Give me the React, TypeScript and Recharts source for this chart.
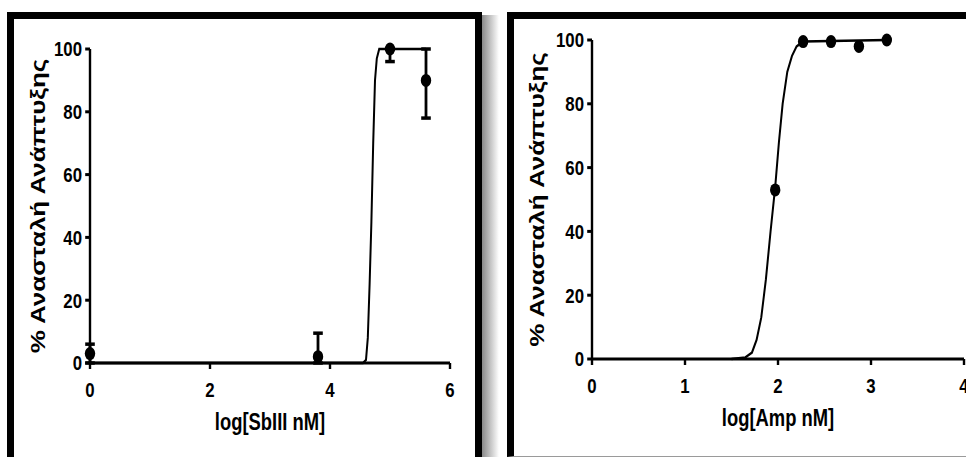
import React from "react";
import {
  ComposedChart,
  Line,
  Scatter,
  ErrorBar,
  XAxis,
  YAxis,
  Label,
} from "recharts";

// horizontal squash of the original picture
const SQUASH = 0.8;
const FONT = "'Liberation Sans', Arial, sans-serif";

// SbIII panel
const sbCurveX = [0, 4.55, 4.6, 4.63, 4.66, 4.69, 4.72, 4.75, 4.78, 4.82, 5.6];
const sbCurveY = [0, 0, 1, 8, 25, 45, 70, 90, 97, 100, 100];
const sbPointX = [0, 3.8, 5.0, 5.6];
const sbPointY = [3, 2, 100, 90];
const sbErrLow = [3, 2, 4, 12];
const sbErrHigh = [3, 7.5, 0, 10];
const sbTicks = [0, 2, 4, 6];

// Amp panel
const ampCurveX = [1.5, 1.65, 1.72, 1.77, 1.82, 1.87, 1.92, 1.97, 2.01, 2.05, 2.1, 2.15, 2.2, 2.27, 3.17];
const ampCurveY = [0, 0.5, 2, 6, 13, 25, 40, 54, 68, 80, 90, 95, 98, 99.5, 100];
const ampPointX = [1.97, 2.27, 2.57, 2.87, 3.17];
const ampPointY = [53, 99.5, 99.5, 98, 100];
const ampTicks = [0, 1, 2, 3, 4];

const yTicks = [0, 20, 40, 60, 80, 100];
const yTitle = "% Ανασταλή Ανάπτυξης";

const Dot = (props: any) => {
  if (props.cx == null || props.cy == null) return null;
  return <circle cx={props.cx} cy={props.cy} r={6.5} fill="#000" />;
};

const tickStyle = { fontFamily: FONT, fontSize: 21, fontWeight: 700, fill: "#000" };

interface PanelProps {
  curve: { x: number; y: number }[];
  points: { x: number; y: number; err?: number[] }[];
  xTicks: number[];
  xLabel: string;
  width: number;
  yAxisWidth: number;
  marginRight: number;
  top: number;
  bottom: number;
  yLabelOffset: number;
  withErrors: boolean;
}

const Panel = ({
  curve,
  points,
  xTicks,
  xLabel,
  width,
  yAxisWidth,
  marginRight,
  top,
  bottom,
  yLabelOffset,
  withErrors,
}: PanelProps) => (
  <ComposedChart
    width={width}
    height={457}
    margin={{ top, right: marginRight, bottom, left: 0 }}
  >
    <XAxis
      type="number"
      dataKey="x"
      domain={[xTicks[0], xTicks[xTicks.length - 1]]}
      ticks={xTicks}
      interval={0}
      height={80}
      stroke="#000"
      strokeWidth={3}
      tickSize={6}
      tickMargin={13}
      tick={tickStyle}
    >
      <Label
        value={xLabel}
        position="insideBottom"
        offset={13}
        style={{ fontFamily: FONT, fontSize: 23, fontWeight: 700, fill: "#000" }}
      />
    </XAxis>
    <YAxis
      type="number"
      dataKey="y"
      domain={[0, 100]}
      ticks={yTicks}
      interval={0}
      width={yAxisWidth}
      stroke="#000"
      strokeWidth={3}
      tickSize={6}
      tickMargin={4}
      tick={tickStyle}
    >
      <Label
        value={yTitle}
        angle={-90}
        position="insideLeft"
        offset={yLabelOffset}
        style={{
          fontFamily: FONT,
          fontSize: 26,
          fontWeight: 700,
          fill: "#000",
          textAnchor: "middle",
        }}
      />
    </YAxis>
    <Line
      data={curve}
      dataKey="y"
      type="linear"
      stroke="#000"
      strokeWidth={2.5}
      dot={false}
      activeDot={false}
      isAnimationActive={false}
    />
    <Scatter data={points} dataKey="y" shape={<Dot />} isAnimationActive={false}>
      {withErrors && (
        <ErrorBar
          dataKey="err"
          direction="y"
          width={6}
          stroke="#000"
          strokeWidth={3.5}
          isAnimationActive={false}
        />
      )}
    </Scatter>
  </ComposedChart>
);

export default function App() {
  const sbCurve = sbCurveX.map((x, i) => ({ x, y: sbCurveY[i] }));
  const sbPoints = sbPointX.map((x, i) => ({
    x,
    y: sbPointY[i],
    err: [sbErrLow[i], sbErrHigh[i]],
  }));
  const ampCurve = ampCurveX.map((x, i) => ({ x, y: ampCurveY[i] }));
  const ampPoints = ampPointX.map((x, i) => ({ x, y: ampPointY[i] }));

  return (
    <div
      style={{
        position: "absolute",
        left: 0,
        top: 0,
        width: 966,
        height: 457,
        overflow: "hidden",
        background: "#fff",
      }}
    >
      {/* left frame + shadow */}
      <div
        style={{
          position: "absolute",
          left: 7,
          top: 12,
          width: 475,
          height: 470,
          boxSizing: "border-box",
          border: "7px solid #000",
        }}
      />
      <div
        style={{
          position: "absolute",
          left: 482,
          top: 15,
          width: 17,
          height: 442,
          background: "linear-gradient(to right, #8a8a8a, rgba(255,255,255,0))",
        }}
      />
      {/* right frame */}
      <div
        style={{
          position: "absolute",
          left: 507,
          top: 12,
          width: 480,
          height: 445,
          boxSizing: "border-box",
          borderLeft: "7px solid #000",
          borderTop: "7px solid #000",
          borderBottom: "1px solid #9a9a9a",
        }}
      />

      <div
        style={{
          position: "absolute",
          left: 14,
          top: 0,
          transform: `scaleX(${SQUASH})`,
          transformOrigin: "0 0",
        }}
      >
        <Panel
          curve={sbCurve}
          points={sbPoints}
          xTicks={sbTicks}
          xLabel="log[SbIII nM]"
          width={585}
          yAxisWidth={95}
          marginRight={40}
          top={49}
          bottom={14}
          yLabelOffset={29}
          withErrors
        />
      </div>

      <div
        style={{
          position: "absolute",
          left: 514,
          top: 0,
          transform: `scaleX(${SQUASH})`,
          transformOrigin: "0 0",
        }}
      >
        <Panel
          curve={ampCurve}
          points={ampPoints}
          xTicks={ampTicks}
          xLabel="log[Amp nM]"
          width={600}
          yAxisWidth={97.5}
          marginRight={37.5}
          top={40}
          bottom={18}
          yLabelOffset={28}
          withErrors={false}
        />
      </div>
    </div>
  );
}
